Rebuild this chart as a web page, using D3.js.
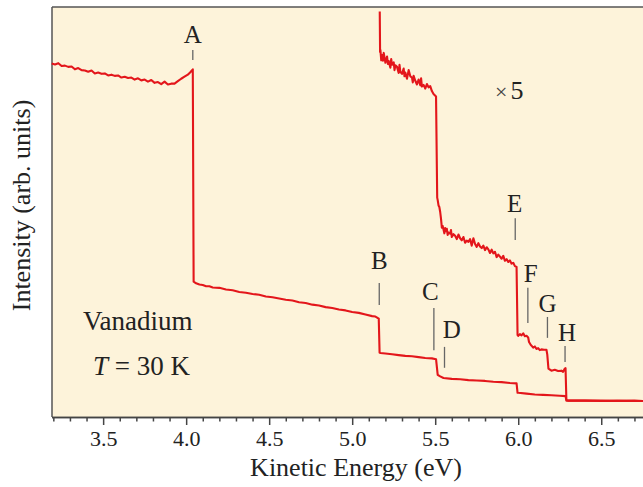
<!DOCTYPE html>
<html>
<head>
<meta charset="utf-8">
<script src="https://cdn.jsdelivr.net/npm/d3@7"></script>
<style>
  html, body { margin: 0; padding: 0; background: #ffffff; }
  svg { display: block; }
  text { font-family: "Liberation Serif", "Times New Roman", serif; fill: #222; }
</style>
</head>
<body>
<svg id="chart" width="643" height="487"></svg>
<script>
// Photoemission spectrum of vanadium at 30 K: kinetic energy (eV) vs intensity (arb. units)

// Full-scale trace (x1)
const energyX1 = [
  3.19, 3.21, 3.23, 3.25, 3.27, 3.29, 3.31, 3.33, 3.35, 3.37, 3.39, 3.41, 3.43, 3.45, 3.47, 3.49,
  3.51, 3.53, 3.55, 3.57, 3.59, 3.61, 3.63, 3.65, 3.67, 3.69, 3.71, 3.73, 3.75, 3.77, 3.79, 3.81,
  3.83, 3.85, 3.87, 3.89, 3.91, 3.93, 3.95, 3.97, 3.99, 4.01, 4.025, 4.04,
  4.045, 4.06, 4.08, 4.10, 4.12, 4.14, 4.16, 4.20, 4.24, 4.28, 4.32, 4.36, 4.40, 4.44, 4.48, 4.52,
  4.56, 4.60, 4.64, 4.68, 4.72, 4.76, 4.80, 4.84, 4.88, 4.92, 4.96, 5.00, 5.04, 5.08, 5.12, 5.14, 5.16,
  5.165, 5.17, 5.20, 5.24, 5.28, 5.32, 5.36, 5.40, 5.44, 5.48, 5.505,
  5.515, 5.53, 5.55, 5.60, 5.65, 5.70, 5.75, 5.80, 5.85, 5.90, 5.95, 5.99,
  5.996, 6.00, 6.05, 6.10, 6.15, 6.20, 6.25, 6.285,
  6.29, 6.30, 6.40, 6.50, 6.60, 6.70, 6.76
];
const countsX1 = [
  86.2, 86.0, 86.3, 85.6, 85.7, 85.4, 85.5, 84.8, 85.1, 84.6, 84.5, 84.2, 84.5, 83.8, 84.0, 83.7,
  83.8, 83.3, 83.5, 83.2, 83.3, 82.8, 83.0, 82.7, 82.8, 82.3, 82.6, 82.1, 82.3, 81.8, 82.2, 81.5,
  81.7, 81.2, 81.8, 81.1, 81.3, 81.3, 81.9, 82.5, 83.0, 83.5, 84.1, 84.8,
  33.0, 32.6, 32.3, 32.2, 31.9, 31.9, 31.6, 31.5, 31.1, 30.9, 30.5, 30.3, 30.0, 29.8, 29.4, 29.2,
  28.9, 28.6, 28.4, 28.0, 27.8, 27.4, 27.2, 26.8, 26.6, 26.2, 26.0, 25.6, 25.4, 25.0, 24.6, 24.5, 24.0,
  15.7, 15.6, 15.5, 15.3, 15.1, 14.9, 14.8, 14.6, 14.4, 14.3, 14.1,
  10.3, 9.9, 9.5, 9.3, 9.2, 9.0, 8.9, 8.8, 8.6, 8.5, 8.3, 8.2,
  5.9, 5.9, 5.7, 5.5, 5.4, 5.3, 5.2, 5.1,
  4.0, 4.0, 4.0, 3.9, 4.0, 3.9, 3.9
];

// Trace magnified five times above the B onset
const energyX5 = [
  5.166, 5.168, 5.17, 5.175, 5.18, 5.185, 5.19, 5.195, 5.20, 5.21, 5.215, 5.22, 5.23, 5.235, 5.24,
  5.25, 5.255, 5.26, 5.27, 5.28, 5.285, 5.29, 5.30, 5.31, 5.315, 5.32, 5.33, 5.34, 5.35, 5.36,
  5.365, 5.37, 5.38, 5.39, 5.40, 5.41, 5.415, 5.42, 5.43, 5.44, 5.45, 5.46, 5.47, 5.48, 5.49, 5.505,
  5.512, 5.515, 5.52, 5.525, 5.53, 5.535, 5.54, 5.545, 5.55,
  5.555, 5.56, 5.565, 5.57, 5.575, 5.58, 5.59, 5.595, 5.60, 5.61, 5.62, 5.63, 5.64, 5.65, 5.66,
  5.67, 5.68, 5.69, 5.70, 5.71, 5.72, 5.73, 5.74, 5.75, 5.76, 5.77, 5.78, 5.79, 5.80, 5.81, 5.82,
  5.83, 5.84, 5.85, 5.86, 5.87, 5.88, 5.89, 5.90, 5.91, 5.92, 5.93, 5.94, 5.95, 5.96, 5.97, 5.98, 5.99,
  5.996, 6.00, 6.01, 6.02, 6.03, 6.04, 6.05, 6.06, 6.065, 6.075, 6.08, 6.09, 6.10, 6.11, 6.12,
  6.13, 6.14, 6.155, 6.17, 6.175, 6.182, 6.20, 6.22, 6.24, 6.26, 6.27, 6.28, 6.285,
  6.29, 6.30, 6.40, 6.50, 6.60, 6.70, 6.76
];
const countsX5 = [
  98.9, 89.0, 89.5, 87.0, 88.3, 86.9, 88.8, 87.6, 86.4, 87.9, 86.1, 86.8, 85.2, 87.3, 85.9,
  86.5, 84.6, 85.8, 85.4, 83.9, 85.9, 84.2, 83.7, 85.0, 83.1, 84.0, 82.5, 84.6, 83.1, 82.8,
  81.6, 83.2, 82.0, 81.1, 82.3, 80.9, 82.6, 80.6, 81.0, 80.1, 81.2, 80.4, 80.7, 79.5, 78.8, 78.2,
  53.5, 52.9, 51.6, 51.2, 50.0, 48.3, 46.2, 46.6, 45.7,
  44.8, 46.1, 45.3, 45.9, 44.4, 45.0, 44.7, 45.6, 43.9, 44.6, 44.2, 43.4, 44.5, 43.6, 43.1,
  43.9, 42.5, 43.0, 42.7, 43.4, 41.8, 43.6, 42.2, 41.5, 42.4, 41.6, 41.2, 41.8, 40.7, 41.4, 40.9,
  40.0, 40.8, 39.9, 40.3, 39.0, 39.6, 39.1, 38.6, 39.3, 38.1, 38.5, 37.8, 38.2, 37.4, 37.6, 36.8, 36.6,
  20.0, 19.8, 20.2, 19.9, 20.4, 19.7, 19.8, 19.4, 18.3, 17.6, 17.4, 16.9, 17.2, 16.6, 16.8,
  16.3, 16.5, 16.4, 16.4, 15.2, 11.8, 11.3, 11.5, 11.2, 11.3, 11.0, 11.8, 11.9,
  4.2, 4.0, 4.0, 4.0, 3.9, 4.0, 3.9
];

// Feature markers A-H
const markerLabels  = ["A", "B", "C", "D", "E", "F", "G", "H"];
const markerEnergy  = [4.04, 5.163, 5.492, 5.556, 5.982, 6.058, 6.176, 6.282];
const markerTop     = [89.5, 32.7, 26.6, 17.1, 48.5, 31.5, 24.4, 17.3];
const markerBottom  = [87.1, 27.3, 16.3, 12.0, 43.2, 22.9, 19.3, 13.4];
const labelEnergy   = [4.04, 5.163, 5.471, 5.600, 5.978, 6.075, 6.176, 6.294];
const labelLevel    = [91.3, 36.0, 28.5, 19.2, 50.1, 33.0, 25.7, 18.5];

// Axis ticks
const majorTicks = [3.5, 4.0, 4.5, 5.0, 5.5, 6.0, 6.5];
const minorTicks = [3.2, 3.3, 3.4, 3.6, 3.7, 3.8, 3.9, 4.1, 4.2, 4.3, 4.4, 4.6, 4.7, 4.8, 4.9,
                    5.1, 5.2, 5.3, 5.4, 5.6, 5.7, 5.8, 5.9, 6.1, 6.2, 6.3, 6.4, 6.6, 6.7];

const svg = d3.select("#chart");
const plotLeft = 52, plotRight = 643, plotTop = 7, plotBottom = 417;

const x = d3.scaleLinear().domain([3.192, 6.7515]).range([plotLeft, plotRight]);
const y = d3.scaleLinear().domain([0, 100]).range([plotBottom, plotTop]);

// plot background
svg.append("rect")
  .attr("x", plotLeft).attr("y", plotTop)
  .attr("width", plotRight - plotLeft).attr("height", plotBottom - plotTop)
  .attr("fill", "#fdf3da");

// frame: top and left
svg.append("line").attr("x1", plotLeft).attr("x2", plotRight).attr("y1", plotTop).attr("y2", plotTop)
  .attr("stroke", "#555").attr("stroke-width", 1.5);
svg.append("line").attr("x1", plotLeft).attr("x2", plotLeft).attr("y1", plotTop).attr("y2", plotBottom)
  .attr("stroke", "#555").attr("stroke-width", 1.5);

// x axis: minor ticks
const minorAxis = svg.append("g")
  .attr("transform", `translate(0,${plotBottom})`)
  .call(d3.axisBottom(x).tickValues(minorTicks).tickSize(4.5).tickFormat(""));
// x axis: major ticks and labels
const majorAxis = svg.append("g")
  .attr("transform", `translate(0,${plotBottom})`)
  .call(d3.axisBottom(x).tickValues(majorTicks).tickSize(8).tickPadding(5)
        .tickFormat(d3.format(".1f")));
[minorAxis, majorAxis].forEach(g => {
  g.select(".domain").attr("stroke", "#444").attr("stroke-width", 1.5)
    .attr("d", `M${plotLeft},0.5H${plotRight}`);
  g.selectAll(".tick line").attr("stroke", "#444").attr("stroke-width", 1.5);
});
majorAxis.selectAll(".tick text")
  .attr("font-family", "Liberation Serif, Times New Roman, serif")
  .attr("font-size", 22).attr("fill", "#333");

// axis titles
svg.append("text")
  .attr("x", 356).attr("y", 476)
  .attr("text-anchor", "middle").attr("font-size", 26)
  .text("Kinetic Energy (eV)");
svg.append("text")
  .attr("transform", "translate(30,205.5) rotate(-90)")
  .attr("text-anchor", "middle").attr("font-size", 26)
  .text("Intensity (arb. units)");

// traces
const line = d3.line().x(d => x(d[0])).y(d => y(d[1]));
const traceX1 = energyX1.map((e, i) => [e, countsX1[i]]);
const traceX5 = energyX5.map((e, i) => [e, countsX5[i]]);

[traceX1, traceX5].forEach(tr => {
  svg.append("path")
    .datum(tr)
    .attr("d", line)
    .attr("fill", "none")
    .attr("stroke", "#e3161b")
    .attr("stroke-width", 2.1)
    .attr("stroke-linejoin", "round");
});

// feature markers
const markers = markerLabels.map((t, i) => ({
  label: t, e: markerEnergy[i], top: markerTop[i], bot: markerBottom[i],
  le: labelEnergy[i], ll: labelLevel[i]
}));
svg.append("g").selectAll("line").data(markers).join("line")
  .attr("x1", d => x(d.e)).attr("x2", d => x(d.e))
  .attr("y1", d => y(d.top)).attr("y2", d => y(d.bot))
  .attr("stroke", "#666").attr("stroke-width", 1.3);
svg.append("g").selectAll("text").data(markers).join("text")
  .attr("x", d => x(d.le)).attr("y", d => y(d.ll))
  .attr("text-anchor", "middle").attr("font-size", 25)
  .text(d => d.label);

// magnification note
const mag = svg.append("text").attr("x", 495).attr("y", 99);
mag.append("tspan").attr("font-size", 22).attr("fill", "#444").text("×");
mag.append("tspan").attr("dx", 3).attr("font-size", 26).text("5");

// sample annotation
svg.append("text").attr("x", 83).attr("y", 330).attr("font-size", 27).text("Vanadium");
const temp = svg.append("text").attr("x", 93).attr("y", 375).attr("font-size", 27);
temp.append("tspan").attr("font-style", "italic").text("T");
temp.append("tspan").text(" = 30 K");
</script>
</body>
</html>
